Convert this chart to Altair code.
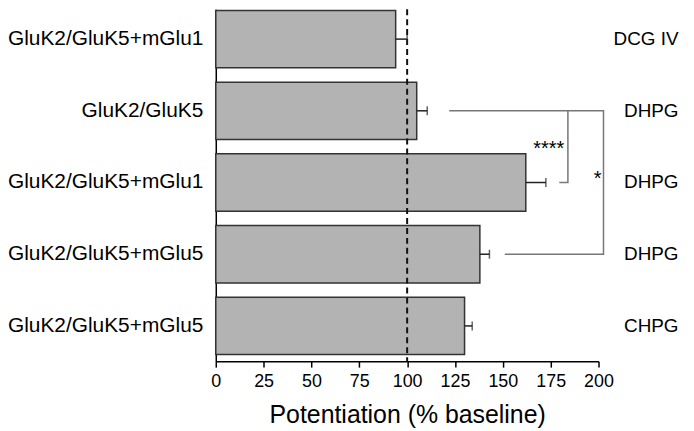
import altair as alt
import pandas as pd

# ---- data ----
constructs = ["GluK2/GluK5+mGlu1", "GluK2/GluK5", "GluK2/GluK5+mGlu1",
              "GluK2/GluK5+mGlu5", "GluK2/GluK5+mGlu5"]
agonists = ["DCG IV", "DHPG", "DHPG", "DHPG", "CHPG"]
potentiation = [94, 105, 162, 138, 130]
sem = [6, 5.5, 10.5, 5, 4]
baseline = [100]
x_ticks = [0, 25, 50, 75, 100, 125, 150, 175, 200]

# significance brackets (polylines through bar rows)
br_path = ["a", "a", "a", "a", "b", "b", "b"]
br_row = [1, 1, 3, 3, 1, 2, 2]
br_x = [122, 202.6, 202.6, 151, 184, 184, 179.5]
star_labels = ["****", "*"]
star_x = [174, 199.5]
star_row = [2, 2]

FONT = "Liberation Sans"

rows = [f"{c}|{a}" for c, a in zip(constructs, agonists)]
bars_df = pd.DataFrame({
    "row": rows,
    "value": potentiation,
    "upper": [p + s for p, s in zip(potentiation, sem)],
})
br_df = pd.DataFrame({
    "path": br_path,
    "step": list(range(len(br_path))),
    "row": [rows[i] for i in br_row],
    "x": br_x,
})
star_df = pd.DataFrame({
    "label": star_labels,
    "x": star_x,
    "row": [rows[i] for i in star_row],
})
base_df = pd.DataFrame({"baseline": baseline})

x_scale = alt.Scale(domain=[0, 200], nice=False, zero=True)
y_scale = alt.Scale(domain=rows, paddingInner=0.2, paddingOuter=0.054, align=0.154)

x_axis = alt.Axis(
    values=x_ticks, title="Potentiation (% baseline)", grid=False,
    domainColor="black", domainWidth=1.5, tickColor="black", tickWidth=1.5,
    tickSize=6, labelFont=FONT, labelFontSize=18, labelColor="black",
    labelPadding=5, labelFlush=False, labelOverlap=False,
    titleFont=FONT, titleFontSize=25, titleFontWeight="normal",
    titleColor="black", titlePadding=13,
)

left_axis = alt.Axis(
    orient="left", title=None, labelExpr="split(datum.label, '|')[0]",
    labelFont=FONT, labelFontSize=21, labelColor="black", labelPadding=13,
    ticks=False, tickSize=0, domainColor="black", domainWidth=1.5,
    labelLimit=400, grid=False,
)
right_axis = alt.Axis(
    orient="right", title=None, labelExpr="split(datum.label, '|')[1]",
    labelFont=FONT, labelFontSize=19, labelColor="black", labelPadding=80,
    labelAlign="right", ticks=False, tickSize=0, domain=False,
    labelLimit=400, grid=False,
)

bars = alt.Chart(bars_df).mark_bar(
    fill="#b3b3b3", stroke="#333333", strokeWidth=1.5
).encode(
    x=alt.X("value:Q", scale=x_scale, axis=x_axis),
    y=alt.Y("row:N", sort=rows, scale=y_scale, axis=left_axis),
)

err = alt.Chart(bars_df).mark_rule(color="#222222", strokeWidth=1.5).encode(
    x=alt.X("value:Q", scale=x_scale, axis=x_axis),
    x2="upper:Q",
    y=alt.Y("row:N", sort=rows, scale=y_scale, axis=right_axis),
)

caps = alt.Chart(bars_df).mark_tick(
    color="#222222", thickness=1.5, size=9, orient="vertical"
).encode(
    x=alt.X("upper:Q", scale=x_scale, axis=x_axis),
    y=alt.Y("row:N", sort=rows, scale=y_scale, axis=None),
)

base = alt.Chart(base_df).mark_rule(
    color="#111111", strokeWidth=2, strokeDash=[6, 4]
).encode(
    x=alt.X("baseline:Q", scale=x_scale, axis=x_axis),
)

brackets = alt.Chart(br_df).mark_line(color="#777777", strokeWidth=1.5).encode(
    x=alt.X("x:Q", scale=x_scale, axis=x_axis),
    y=alt.Y("row:N", sort=rows, scale=y_scale, axis=None),
    detail="path:N",
    order="step:Q",
)

stars4 = alt.Chart(star_df.iloc[[0]]).mark_text(
    font=FONT, fontSize=20, color="black", baseline="alphabetic", dy=-28
).encode(
    x=alt.X("x:Q", scale=x_scale, axis=x_axis),
    y=alt.Y("row:N", sort=rows, scale=y_scale, axis=None),
    text="label:N",
)
stars1 = alt.Chart(star_df.iloc[[1]]).mark_text(
    font=FONT, fontSize=20, color="black", baseline="alphabetic", dy=3
).encode(
    x=alt.X("x:Q", scale=x_scale, axis=x_axis),
    y=alt.Y("row:N", sort=rows, scale=y_scale, axis=None),
    text="label:N",
)

chart = alt.layer(bars, base, err, caps, brackets, stars4, stars1).resolve_axis(
    y="independent"
).properties(
    width=385, height=354,
    autosize=alt.AutoSizeParams(type="none"),
    padding={"left": 209, "top": 0, "right": 88, "bottom": 67},
    background="white",
).configure_view(stroke=None)

chart.save("out.html", embed_options={"renderer": "svg", "actions": False})
